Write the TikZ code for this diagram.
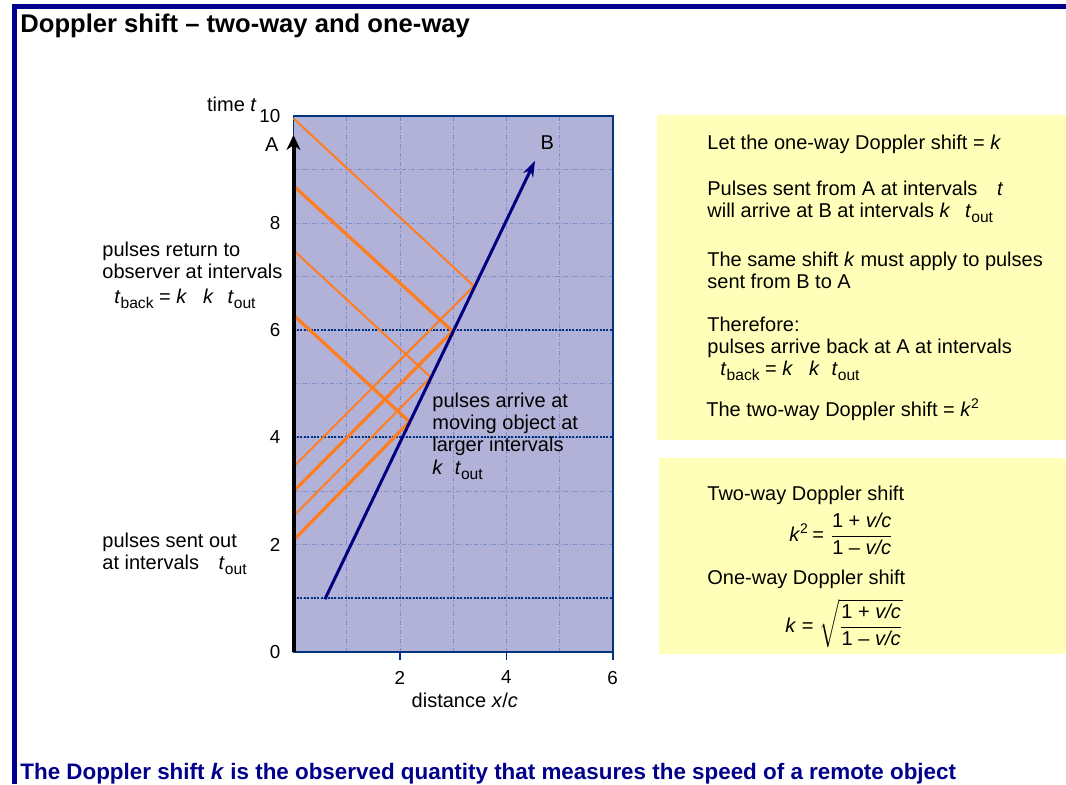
\documentclass[tikz,border=0pt]{standalone}
\usepackage{amsmath}
\usepackage{fontspec}
\setmainfont{Liberation Sans}
\usetikzlibrary{arrows.meta}

\definecolor{framenavy}{RGB}{0,0,140}
\definecolor{plotfill}{RGB}{178,178,216}
\definecolor{plotedge}{RGB}{0,51,128}
\definecolor{gridblue}{RGB}{125,142,198}
\definecolor{pulseorange}{RGB}{255,125,30}
\definecolor{worldnavy}{RGB}{0,0,128}
\definecolor{noteyellow}{RGB}{255,255,185}

\newcommand{\lowtxt}[1]{\raisebox{-2.5pt}{\fontsize{7.8}{8}\selectfont #1}}
\newcommand{\tout}{\textit{t}\lowtxt{out}}
\newcommand{\tback}{\textit{t}\lowtxt{back}}
\newcommand{\vcfrac}{\dfrac{\mbox{1 + \textit{v/c}}}{\mbox{1 – \textit{v/c}}}}

\begin{document}
\begin{tikzpicture}[x=0.5pt, y=-0.5pt,
		txt/.style={inner sep=0pt, font=\fontsize{10}{10.8}\selectfont, align=left},
		ticklbl/.style={inner sep=0pt, font=\fontsize{9.4}{10}\selectfont},
		gridline/.style={gridblue, line width=0.4pt, dash pattern=on 2pt off 1pt on 0.5pt off 1pt},
		levelline/.style={plotedge, line width=0.9pt, dash pattern=on 1pt off 0.7pt},
		pulse/.style={pulseorange, line width=1pt},
		pulse thick/.style={pulseorange, line width=1.6pt},
		worldline/.style={worldnavy, line width=1.5pt, -{Stealth[length=8pt, width=5.5pt]}}]
	\useasboundingbox (0,0) rectangle (1066,784);

	% frame and title
	\fill[framenavy] (12,4) rectangle (1066,9);
	\fill[framenavy] (12,4) rectangle (17,784);
	\node[anchor=base west, inner sep=0pt, font=\bfseries\fontsize{12.8}{14}\selectfont] (title) at (20,32) {Doppler shift – two-way and one-way};

	% yellow note boxes
	\fill[noteyellow] (657,115) rectangle (1066,440);
	\fill[noteyellow] (659,458) rectangle (1066,654);

	% spacetime diagram
	\begin{scope}[shift={(293.5,651.7)}, x=26.6pt, y=26.8pt]
		\fill[plotfill] (0,0) rectangle (6,10);
		\foreach \gx in {1,...,5} \draw[gridline] (\gx,0) -- (\gx,10);
		\foreach \gt in {1,...,9} \draw[gridline] (0,\gt) -- (6,\gt);
		\foreach \lvl in {1,4,6} \draw[levelline] (0,\lvl) -- (6,\lvl);
		\draw[plotedge, line width=0.8pt] (0,0) rectangle (6,10);
		\foreach \gx in {2,4,6} {
			\draw[plotedge, line width=0.8pt] (\gx,0) -- (\gx,-0.15);
			\node[ticklbl, anchor=north] (xl\gx) at (\gx,-0.35) {\gx};
		}
		\foreach \gt in {0,2,...,10}
			\node[ticklbl, anchor=east] (yl\gt) at (-0.24,\gt) {\gt};

		% worldline of B and the reflection points on it
		\coordinate (B0) at (0.59,0.98);
		\coordinate (B1) at (4.54,9.16);
		\coordinate (R1) at (3.39,6.82);
		\coordinate (R2) at (2.99,5.98);
		\coordinate (R3) at (2.58,5.12);
		\coordinate (R4) at (2.18,4.29);

		% pulses out to B and back to A
		\foreach \i/\ts/\te/\sty in {1/3.45/9.95/pulse, 2/2.99/8.69/pulse thick, 3/2.53/7.49/pulse, 4/2.08/6.28/pulse thick} {
			\coordinate (S\i) at (0,\ts);
			\coordinate (E\i) at (0,\te);
			\draw[\sty] (S\i) -- (R\i) -- (E\i);
		}

		\draw[worldline] (B0) -- (B1);
		\coordinate (origin) at (0,0);
		\coordinate (Atip) at (0,9.64);
		\draw[line width=2pt, -{Stealth[length=7.5pt, width=7pt]}] (origin) -- (Atip);

		\node[inner sep=0pt, font=\fontsize{10}{12}\selectfont] (lblA) at (-0.41,9.46) {A};
		\node[inner sep=0pt, font=\fontsize{10}{12}\selectfont] (lblB) at (4.77,9.49) {B};
		\node[inner sep=0pt, anchor=base, font=\fontsize{10}{12}\selectfont] (xlab) at (3.22,-1.05) {distance \textit{x}/\textit{c}};
	\end{scope}

	\node[anchor=base west, inner sep=0pt, font=\fontsize{10}{12}\selectfont] (tlab) at (206.7,111.7) {time \textit{t}};

	% labels beside the diagram
	\node[txt, anchor=north west] (backlbl) at (102,241.5) {pulses return to\\observer at intervals};
	\node[txt, anchor=base west] (backeq) at (114,303) {\tback{} = \textit{k}\hspace{8pt}\textit{k} \hspace{4pt}\tout};
	\node[txt, anchor=north west] (sentlbl) at (102,533) {pulses sent out\\at intervals \hspace{7pt}\tout};
	\node[txt, anchor=north west] (arrivelbl) at (432,393) {pulses arrive at\\moving object at\\larger intervals\\[1pt]\textit{k} \hspace{3pt}\tout};

	% first note
	\node[txt, anchor=north west] (letk) at (707,135) {Let the one-way Doppler shift = \textit{k}};
	\node[txt, anchor=north west] (sentAB) at (707,180.5) {Pulses sent from A at intervals \hspace{7pt}\textit{t}\\will arrive at B at intervals \textit{k} \hspace{4.5pt}\tout};
	\node[txt, anchor=north west] (samek) at (707,252) {The same shift \textit{k} must apply to pulses\\sent from B to A};
	\node[txt, anchor=north west] (therefore) at (707,317) {Therefore:\\pulses arrive back at A at intervals\\\hspace*{6.5pt}\tback{} = \textit{k}\hspace{8pt}\textit{k} \hspace{3pt}\tout};
	\node[txt, anchor=base west] (twoway) at (706,416) {The two-way Doppler shift = \textit{k}\textsuperscript{2}};

	% second note
	\node[txt, anchor=base west] (twohead) at (707,500) {Two-way Doppler shift};
	\node[txt, anchor=base west] (twoeq) at (789,541) {\textit{k}\textsuperscript{2}\,= $\vcfrac$};
	\node[txt, anchor=base west] (onehead) at (707,584.5) {One-way Doppler shift};
	\node[txt, anchor=base west] (oneeq) at (785,632) {\textit{k} = $\sqrt{\vcfrac}$};

	\node[anchor=base west, inner sep=0pt, font=\bfseries\fontsize{11.2}{13}\selectfont, text=framenavy] (moral) at (20,779) {The Doppler shift \textit{k} is the observed quantity that measures the speed of a remote object};
\end{tikzpicture}
\end{document}
